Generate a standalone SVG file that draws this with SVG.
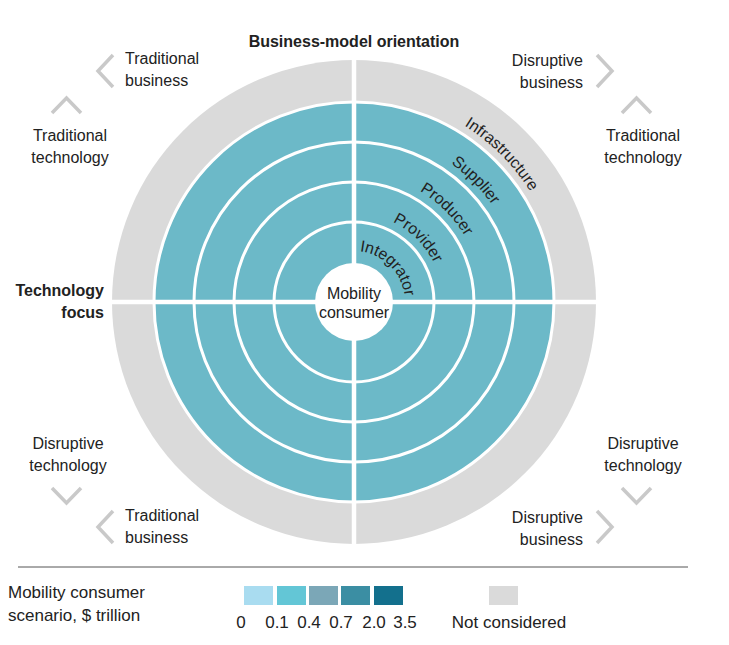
<svg xmlns="http://www.w3.org/2000/svg" width="729" height="645" viewBox="0 0 729 645">
<style>
text{font-family:"Liberation Sans",Arial,sans-serif;fill:#222;font-size:16px}
.b{font-weight:bold}
.ring{fill:#6cb9c8;stroke:#fff;stroke-width:3}
.chev{fill:none;stroke:#c9c9c9;stroke-width:3.5}
.lg{font-size:17px}
.sep{stroke:#fff;stroke-width:4.5}
</style>
<defs>
<path id="p206" d="M354,94 A208,208 0 0 1 562,302"/>
<path id="p166" d="M354,133 A169,169 0 0 1 523,302"/>
<path id="p126" d="M354,173 A129,129 0 0 1 483,302"/>
<path id="p86" d="M354,213 A89,89 0 0 1 443,302"/>
<path id="p46" d="M354,251 A51,51 0 0 1 405,302"/>
</defs>
<rect width="729" height="645" fill="#fff"/>
<text class="b" x="354" y="47" text-anchor="middle">Business-model orientation</text>
<g id="ring-infrastructure">
<circle cx="354" cy="302" r="242" fill="#dadada"/>
<text><textPath href="#p206" startOffset="50%" text-anchor="middle">Infrastructure</textPath></text>
</g>
<g id="ring-supplier">
<circle class="ring" cx="354" cy="302" r="200"/>
<text><textPath href="#p166" startOffset="50%" text-anchor="middle">Supplier</textPath></text>
</g>
<g id="ring-producer">
<circle class="ring" cx="354" cy="302" r="160"/>
<text><textPath href="#p126" startOffset="50%" text-anchor="middle">Producer</textPath></text>
</g>
<g id="ring-provider">
<circle class="ring" cx="354" cy="302" r="120"/>
<text><textPath href="#p86" startOffset="50%" text-anchor="middle">Provider</textPath></text>
</g>
<g id="ring-integrator">
<circle class="ring" cx="354" cy="302" r="80"/>
<text><textPath href="#p46" startOffset="50%" text-anchor="middle">Integrator</textPath></text>
</g>
<g id="axes">
<line class="sep" x1="112" y1="302" x2="596" y2="302"/>
<line class="sep" x1="354" y1="60" x2="354" y2="544"/>
</g>
<g id="mobility-consumer">
<circle cx="354" cy="302" r="39" fill="#fff"/>
<text x="354" y="299" text-anchor="middle">Mobility</text>
<text x="354" y="318" text-anchor="middle">consumer</text>
</g>
<g id="technology-focus">
<text class="b" x="104" y="296" text-anchor="end">Technology</text>
<text class="b" x="104" y="318" text-anchor="end">focus</text>
</g>
<g id="arrows">
<polyline class="chev" points="113,55 98,71 113,87"/>
<polyline class="chev" points="52,113 66.5,98 81,113"/>
<polyline class="chev" points="597,55 612,71 597,87"/>
<polyline class="chev" points="622,113 636.5,98 651,113"/>
<polyline class="chev" points="52,488 66.5,503 81,488"/>
<polyline class="chev" points="113,511 98,527 113,543"/>
<polyline class="chev" points="622,488 636.5,503 651,488"/>
<polyline class="chev" points="597,511 612,527 597,543"/>
</g>
<g id="corner-labels">
<text x="125" y="64">Traditional</text>
<text x="125" y="86">business</text>
<text x="70" y="141" text-anchor="middle">Traditional</text>
<text x="70" y="163" text-anchor="middle">technology</text>
<text x="583" y="66" text-anchor="end">Disruptive</text>
<text x="583" y="88" text-anchor="end">business</text>
<text x="643" y="141" text-anchor="middle">Traditional</text>
<text x="643" y="163" text-anchor="middle">technology</text>
<text x="68" y="449" text-anchor="middle">Disruptive</text>
<text x="68" y="471" text-anchor="middle">technology</text>
<text x="125" y="521">Traditional</text>
<text x="125" y="543">business</text>
<text x="643" y="449" text-anchor="middle">Disruptive</text>
<text x="643" y="471" text-anchor="middle">technology</text>
<text x="583" y="523" text-anchor="end">Disruptive</text>
<text x="583" y="545" text-anchor="end">business</text>
</g>
<g id="legend">
<line x1="18" y1="567" x2="688" y2="567" stroke="#555" stroke-width="1"/>
<text class="lg" x="8" y="598">Mobility consumer</text>
<text class="lg" x="8" y="621">scenario, $ trillion</text>
<rect x="244" y="586" width="29" height="19" fill="#a9dcf0"/>
<rect x="277" y="586" width="29" height="19" fill="#63c6d6"/>
<rect x="309" y="586" width="29" height="19" fill="#7ba7b7"/>
<rect x="341" y="586" width="29" height="19" fill="#3b8ea3"/>
<rect x="374" y="586" width="29" height="19" fill="#13708d"/>
<rect x="489" y="586" width="29" height="19" fill="#dadada"/>
<g class="lg" text-anchor="middle">
<text class="lg" x="241" y="628">0</text>
<text class="lg" x="277" y="628">0.1</text>
<text class="lg" x="309" y="628">0.4</text>
<text class="lg" x="341" y="628">0.7</text>
<text class="lg" x="374" y="628">2.0</text>
<text class="lg" x="405" y="628">3.5</text>
<text class="lg" x="509" y="628">Not considered</text>
</g>
</g>
</svg>
